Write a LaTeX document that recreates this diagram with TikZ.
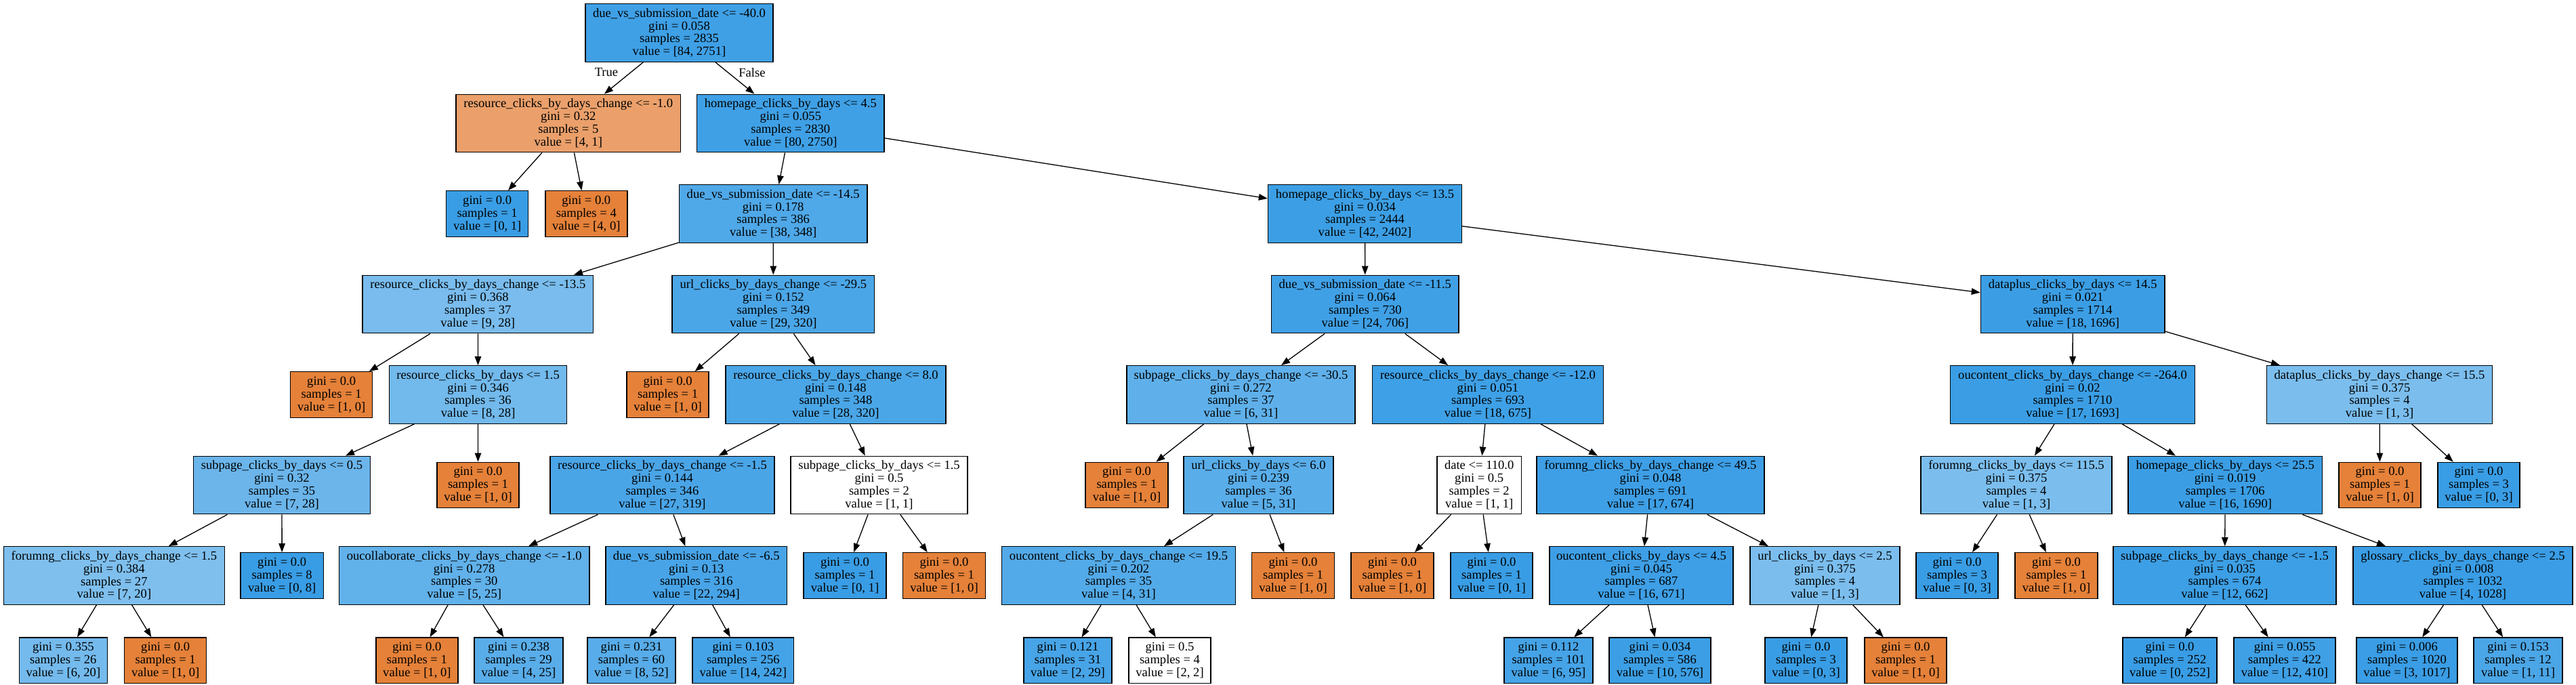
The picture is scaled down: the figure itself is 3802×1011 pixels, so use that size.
\documentclass[tikz,border=0pt]{standalone}
\usepackage{fontspec}
\setmainfont{Liberation Serif}
\usetikzlibrary{arrows.meta}
\definecolor{cb}{RGB}{57,157,229}
\definecolor{co}{RGB}{229,129,57}
\tikzset{
  box/.style={draw=black, line width=1.4pt, rectangle, align=center, inner sep=0pt,
    minimum height=85.5pt, font=\fontsize{18.6pt}{18.8pt}\selectfont},
  leaf/.style={box, minimum height=67.5pt},
  edge/.style={line width=1.3pt, -{Triangle[length=13pt,width=9.5pt]}},
  elabel/.style={inner sep=0pt, font=\fontsize{18.6pt}{18.8pt}\selectfont}
}
\begin{document}
\begin{tikzpicture}[x=1pt, y=-1pt]
\useasboundingbox (0,0) rectangle (3802,1011);
% level 0
\node[box, minimum width=277pt, fill=cb!96.9!white] (root) at (1002.5,48.5) {due\_vs\_submission\_date <= -40.0\\gini = 0.058\\samples = 2835\\value = [84, 2751]};
% level 1
\node[box, minimum width=331.6pt, fill=co!75!white] (a) at (838.8,182) {resource\_clicks\_by\_days\_change <= -1.0\\gini = 0.32\\samples = 5\\value = [4, 1]};
\node[box, minimum width=276.4pt, fill=cb!97.1!white] (b) at (1166.8,182) {homepage\_clicks\_by\_days <= 4.5\\gini = 0.055\\samples = 2830\\value = [80, 2750]};
% level 2
\node[leaf, minimum width=121pt, fill=cb] (a1) at (719.2,315.5) {gini = 0.0\\samples = 1\\value = [0, 1]};
\node[leaf, minimum width=121pt, fill=co] (a2) at (865.3,315.5) {gini = 0.0\\samples = 4\\value = [4, 0]};
\node[box, minimum width=277.6pt, fill=cb!89.1!white] (b1) at (1141.2,315.5) {due\_vs\_submission\_date <= -14.5\\gini = 0.178\\samples = 386\\value = [38, 348]};
\node[box, minimum width=286pt, fill=cb!98.3!white] (b2) at (2014.5,315.5) {homepage\_clicks\_by\_days <= 13.5\\gini = 0.034\\samples = 2444\\value = [42, 2402]};
% level 3
\node[box, minimum width=340.6pt, fill=cb!67.9!white] (b1a) at (705.3,449) {resource\_clicks\_by\_days\_change <= -13.5\\gini = 0.368\\samples = 37\\value = [9, 28]};
\node[box, minimum width=298.7pt, fill=cb!90.9!white] (b1b) at (1141.4,449) {url\_clicks\_by\_days\_change <= -29.5\\gini = 0.152\\samples = 349\\value = [29, 320]};
\node[box, minimum width=276.5pt, fill=cb!96.6!white] (b2a) at (2014.8,449) {due\_vs\_submission\_date <= -11.5\\gini = 0.064\\samples = 730\\value = [24, 706]};
\node[box, minimum width=271.6pt, fill=cb!98.9!white] (b2b) at (3059.2,449) {dataplus\_clicks\_by\_days <= 14.5\\gini = 0.021\\samples = 1714\\value = [18, 1696]};
% level 4
\node[leaf, minimum width=121pt, fill=co] (b1a1) at (489.2,582.5) {gini = 0.0\\samples = 1\\value = [1, 0]};
\node[box, minimum width=262pt, fill=cb!71.4!white] (b1a2) at (705.6,582.5) {resource\_clicks\_by\_days <= 1.5\\gini = 0.346\\samples = 36\\value = [8, 28]};
\node[leaf, minimum width=121pt, fill=co] (b1b1) at (985.6,582.5) {gini = 0.0\\samples = 1\\value = [1, 0]};
\node[box, minimum width=325pt, fill=cb!91.25!white] (b1b2) at (1233.5,582.5) {resource\_clicks\_by\_days\_change <= 8.0\\gini = 0.148\\samples = 348\\value = [28, 320]};
\node[box, minimum width=337pt, fill=cb!80.6!white] (b2a1) at (1831.5,582.5) {subpage\_clicks\_by\_days\_change <= -30.5\\gini = 0.272\\samples = 37\\value = [6, 31]};
\node[box, minimum width=341pt, fill=cb!97.3!white] (b2a2) at (2196,582.5) {resource\_clicks\_by\_days\_change <= -12.0\\gini = 0.051\\samples = 693\\value = [18, 675]};
\node[box, minimum width=361pt, fill=cb!99!white] (b2b1) at (3059,582.5) {oucontent\_clicks\_by\_days\_change <= -264.0\\gini = 0.02\\samples = 1710\\value = [17, 1693]};
\node[box, minimum width=333pt, fill=cb!66.7!white] (b2b2) at (3512,582.5) {dataplus\_clicks\_by\_days\_change <= 15.5\\gini = 0.375\\samples = 4\\value = [1, 3]};
% level 5
\node[box, minimum width=261pt, fill=cb!75!white] (c1) at (416,716) {subpage\_clicks\_by\_days <= 0.5\\gini = 0.32\\samples = 35\\value = [7, 28]};
\node[leaf, minimum width=121pt, fill=co] (c2) at (705.5,716) {gini = 0.0\\samples = 1\\value = [1, 0]};
\node[box, minimum width=331pt, fill=cb!91.5!white] (c3) at (977.5,716) {resource\_clicks\_by\_days\_change <= -1.5\\gini = 0.144\\samples = 346\\value = [27, 319]};
\node[box, minimum width=261pt, fill=white] (c4) at (1297.5,716) {subpage\_clicks\_by\_days <= 1.5\\gini = 0.5\\samples = 2\\value = [1, 1]};
\node[leaf, minimum width=122pt, fill=co] (c5) at (1663,716) {gini = 0.0\\samples = 1\\value = [1, 0]};
\node[box, minimum width=221pt, fill=cb!83.9!white] (c6) at (1857.5,716) {url\_clicks\_by\_days <= 6.0\\gini = 0.239\\samples = 36\\value = [5, 31]};
\node[box, minimum width=124.4pt, fill=white] (c7) at (2183.2,716) {date <= 110.0\\gini = 0.5\\samples = 2\\value = [1, 1]};
\node[box, minimum width=336pt, fill=cb!97.5!white] (c8) at (2436,716) {forumng\_clicks\_by\_days\_change <= 49.5\\gini = 0.048\\samples = 691\\value = [17, 674]};
\node[box, minimum width=282pt, fill=cb!66.7!white] (c9) at (2976,716) {forumng\_clicks\_by\_days <= 115.5\\gini = 0.375\\samples = 4\\value = [1, 3]};
\node[box, minimum width=286.5pt, fill=cb!99.05!white] (c10) at (3284.2,716) {homepage\_clicks\_by\_days <= 25.5\\gini = 0.019\\samples = 1706\\value = [16, 1690]};
\node[leaf, minimum width=121pt, fill=co] (c11) at (3512.5,716) {gini = 0.0\\samples = 1\\value = [1, 0]};
\node[leaf, minimum width=121pt, fill=cb] (c12) at (3658.5,716) {gini = 0.0\\samples = 3\\value = [0, 3]};
% level 6
\node[box, minimum width=326pt, fill=cb!65!white] (d1) at (168.4,849.5) {forumng\_clicks\_by\_days\_change <= 1.5\\gini = 0.384\\samples = 27\\value = [7, 20]};
\node[leaf, minimum width=122.5pt, fill=cb] (d2) at (416.2,849.5) {gini = 0.0\\samples = 8\\value = [0, 8]};
\node[box, minimum width=369.5pt, fill=cb!80!white] (d3) at (685.2,849.5) {oucollaborate\_clicks\_by\_days\_change <= -1.0\\gini = 0.278\\samples = 30\\value = [5, 25]};
\node[box, minimum width=267.7pt, fill=cb!92.5!white] (d4) at (1027.8,849.5) {due\_vs\_submission\_date <= -6.5\\gini = 0.13\\samples = 316\\value = [22, 294]};
\node[leaf, minimum width=122pt, fill=cb] (d5) at (1247,849.5) {gini = 0.0\\samples = 1\\value = [0, 1]};
\node[leaf, minimum width=122pt, fill=co] (d6) at (1393.5,849.5) {gini = 0.0\\samples = 1\\value = [1, 0]};
\node[box, minimum width=344.8pt, fill=cb!87.1!white] (d7) at (1651,849.5) {oucontent\_clicks\_by\_days\_change <= 19.5\\gini = 0.202\\samples = 35\\value = [4, 31]};
\node[leaf, minimum width=122pt, fill=co] (d8) at (1908.5,849.5) {gini = 0.0\\samples = 1\\value = [1, 0]};
\node[leaf, minimum width=122pt, fill=co] (d9) at (2055,849.5) {gini = 0.0\\samples = 1\\value = [1, 0]};
\node[leaf, minimum width=121pt, fill=cb] (d10) at (2201.5,849.5) {gini = 0.0\\samples = 1\\value = [0, 1]};
\node[box, minimum width=271pt, fill=cb!97.6!white] (d11) at (2422.5,849.5) {oucontent\_clicks\_by\_days <= 4.5\\gini = 0.045\\samples = 687\\value = [16, 671]};
\node[box, minimum width=221pt, fill=cb!66.7!white] (d12) at (2693.5,849.5) {url\_clicks\_by\_days <= 2.5\\gini = 0.375\\samples = 4\\value = [1, 3]};
\node[leaf, minimum width=121pt, fill=cb] (d13) at (2888.5,849.5) {gini = 0.0\\samples = 3\\value = [0, 3]};
\node[leaf, minimum width=122pt, fill=co] (d14) at (3035,849.5) {gini = 0.0\\samples = 1\\value = [1, 0]};
\node[box, minimum width=329pt, fill=cb!98.2!white] (d15) at (3283.5,849.5) {subpage\_clicks\_by\_days\_change <= -1.5\\gini = 0.035\\samples = 674\\value = [12, 662]};
\node[box, minimum width=324pt, fill=cb!99.6!white] (d16) at (3635,849.5) {glossary\_clicks\_by\_days\_change <= 2.5\\gini = 0.008\\samples = 1032\\value = [4, 1028]};
% level 7
\node[leaf, minimum width=130pt, fill=cb!70!white] (e1) at (93.4,974.75) {gini = 0.355\\samples = 26\\value = [6, 20]};
\node[leaf, minimum width=121pt, fill=co] (e2) at (244.2,974.75) {gini = 0.0\\samples = 1\\value = [1, 0]};
\node[leaf, minimum width=121pt, fill=co] (e3) at (615.4,974.75) {gini = 0.0\\samples = 1\\value = [1, 0]};
\node[leaf, minimum width=131pt, fill=cb!84!white] (e4) at (765.5,974.75) {gini = 0.238\\samples = 29\\value = [4, 25]};
\node[leaf, minimum width=130pt, fill=cb!84.6!white] (e5) at (932,974.75) {gini = 0.231\\samples = 60\\value = [8, 52]};
\node[leaf, minimum width=149.6pt, fill=cb!94.2!white] (e6) at (1096.8,974.75) {gini = 0.103\\samples = 256\\value = [14, 242]};
\node[leaf, minimum width=130pt, fill=cb!93.1!white] (e7) at (1576,974.75) {gini = 0.121\\samples = 31\\value = [2, 29]};
\node[leaf, minimum width=121pt, fill=white] (e8) at (1726.5,974.75) {gini = 0.5\\samples = 4\\value = [2, 2]};
\node[leaf, minimum width=131pt, fill=cb!93.7!white] (e9) at (2285.5,974.75) {gini = 0.112\\samples = 101\\value = [6, 95]};
\node[leaf, minimum width=150pt, fill=cb!98.3!white] (e10) at (2450,974.75) {gini = 0.034\\samples = 586\\value = [10, 576]};
\node[leaf, minimum width=121pt, fill=cb] (e11) at (2665.5,974.75) {gini = 0.0\\samples = 3\\value = [0, 3]};
\node[leaf, minimum width=121pt, fill=co] (e12) at (2812.5,974.75) {gini = 0.0\\samples = 1\\value = [1, 0]};
\node[leaf, minimum width=139pt, fill=cb] (e13) at (3202.5,974.75) {gini = 0.0\\samples = 252\\value = [0, 252]};
\node[leaf, minimum width=150pt, fill=cb!97.1!white] (e14) at (3372,974.75) {gini = 0.055\\samples = 422\\value = [12, 410]};
\node[leaf, minimum width=149pt, fill=cb!99.7!white] (e15) at (3552.5,974.75) {gini = 0.006\\samples = 1020\\value = [3, 1017]};
\node[leaf, minimum width=131pt, fill=cb!90.9!white] (e16) at (3716.5,974.75) {gini = 0.153\\samples = 12\\value = [1, 11]};
% edge labels
\node[elabel] (ltrue) at (895,106.7) {True};
\node[elabel] (lfalse) at (1110,106.7) {False};
% edges
\draw[edge] (root) -- (a);
\draw[edge] (root) -- (b);
\draw[edge] (a) -- (a1);
\draw[edge] (a) -- (a2);
\draw[edge] (b) -- (b1);
\draw[edge] (b) -- (b2);
\draw[edge] (b1) -- (b1a);
\draw[edge] (b1) -- (b1b);
\draw[edge] (b1a) -- (b1a1);
\draw[edge] (b1a) -- (b1a2);
\draw[edge] (b1a2) -- (c1);
\draw[edge] (b1a2) -- (c2);
\draw[edge] (c1) -- (d1);
\draw[edge] (c1) -- (d2);
\draw[edge] (d1) -- (e1);
\draw[edge] (d1) -- (e2);
\draw[edge] (b1b) -- (b1b1);
\draw[edge] (b1b) -- (b1b2);
\draw[edge] (b1b2) -- (c3);
\draw[edge] (b1b2) -- (c4);
\draw[edge] (c3) -- (d3);
\draw[edge] (c3) -- (d4);
\draw[edge] (d3) -- (e3);
\draw[edge] (d3) -- (e4);
\draw[edge] (d4) -- (e5);
\draw[edge] (d4) -- (e6);
\draw[edge] (c4) -- (d5);
\draw[edge] (c4) -- (d6);
\draw[edge] (b2) -- (b2a);
\draw[edge] (b2) -- (b2b);
\draw[edge] (b2a) -- (b2a1);
\draw[edge] (b2a) -- (b2a2);
\draw[edge] (b2a1) -- (c5);
\draw[edge] (b2a1) -- (c6);
\draw[edge] (c6) -- (d7);
\draw[edge] (c6) -- (d8);
\draw[edge] (d7) -- (e7);
\draw[edge] (d7) -- (e8);
\draw[edge] (b2a2) -- (c7);
\draw[edge] (b2a2) -- (c8);
\draw[edge] (c7) -- (d9);
\draw[edge] (c7) -- (d10);
\draw[edge] (c8) -- (d11);
\draw[edge] (c8) -- (d12);
\draw[edge] (d11) -- (e9);
\draw[edge] (d11) -- (e10);
\draw[edge] (d12) -- (e11);
\draw[edge] (d12) -- (e12);
\draw[edge] (b2b) -- (b2b1);
\draw[edge] (b2b) -- (b2b2);
\draw[edge] (b2b1) -- (c9);
\draw[edge] (b2b1) -- (c10);
\draw[edge] (c9) -- (d13);
\draw[edge] (c9) -- (d14);
\draw[edge] (c10) -- (d15);
\draw[edge] (c10) -- (d16);
\draw[edge] (d15) -- (e13);
\draw[edge] (d15) -- (e14);
\draw[edge] (d16) -- (e15);
\draw[edge] (d16) -- (e16);
\draw[edge] (b2b2) -- (c11);
\draw[edge] (b2b2) -- (c12);
\end{tikzpicture}
\end{document}
